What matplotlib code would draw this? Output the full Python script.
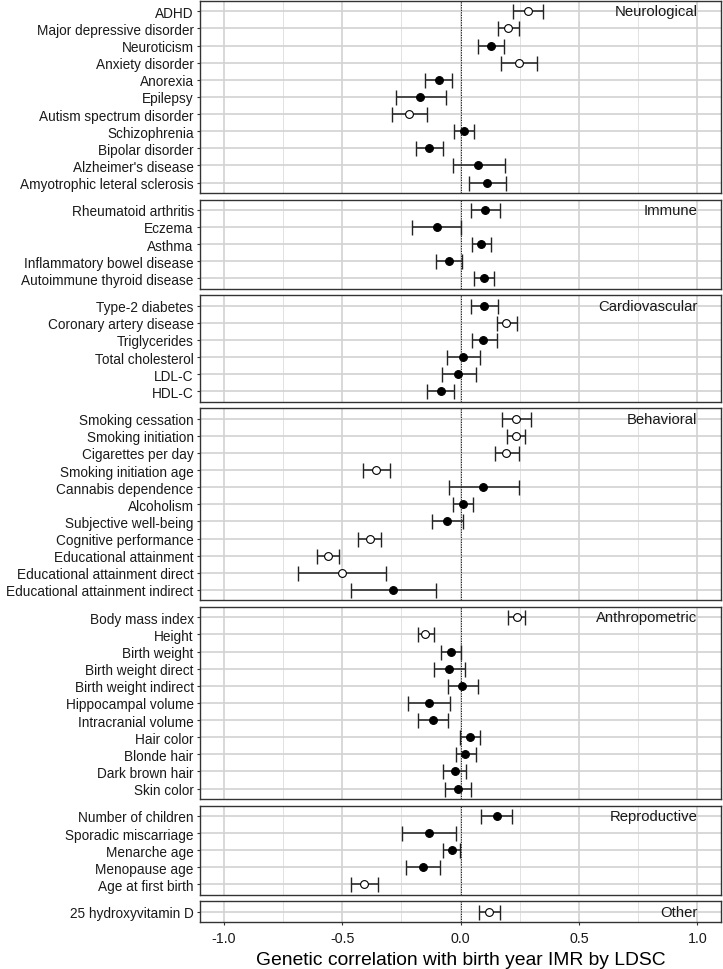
import matplotlib
matplotlib.use('Agg')
import matplotlib.pyplot as plt
import numpy as np

plt.rcParams['font.family'] = ['Liberation Sans', 'DejaVu Sans']

# ---------------- data ----------------
groups = ['Neurological', 'Immune', 'Cardiovascular', 'Behavioral',
          'Anthropometric', 'Reproductive', 'Other']

neuro_traits = ['ADHD', 'Major depressive disorder', 'Neuroticism', 'Anxiety disorder',
                'Anorexia', 'Epilepsy', 'Autism spectrum disorder', 'Schizophrenia',
                'Bipolar disorder', "Alzheimer's disease", 'Amyotrophic leteral sclerosis']
neuro_rg = [0.285, 0.202, 0.130, 0.247, -0.091, -0.169, -0.216, 0.014, -0.134, 0.076, 0.113]
neuro_lo = [0.223, 0.159, 0.074, 0.169, -0.150, -0.274, -0.289, -0.029, -0.190, -0.033, 0.035]
neuro_hi = [0.350, 0.249, 0.184, 0.324, -0.035, -0.062, -0.140, 0.056, -0.076, 0.186, 0.194]
neuro_open = [True, True, False, True, False, False, True, False, False, False, False]

immune_traits = ['Rheumatoid arthritis', 'Eczema', 'Asthma',
                 'Inflammatory bowel disease', 'Autoimmune thyroid disease']
immune_rg = [0.103, -0.101, 0.087, -0.049, 0.099]
immune_lo = [0.043, -0.206, 0.047, -0.103, 0.058]
immune_hi = [0.165, 0.004, 0.130, 0.006, 0.142]
immune_open = [False, False, False, False, False]

cardio_traits = ['Type-2 diabetes', 'Coronary artery disease', 'Triglycerides',
                 'Total cholesterol', 'LDL-C', 'HDL-C']
cardio_rg = [0.099, 0.194, 0.097, 0.012, -0.010, -0.083]
cardio_lo = [0.043, 0.153, 0.047, -0.056, -0.080, -0.140]
cardio_hi = [0.157, 0.239, 0.153, 0.082, 0.064, -0.027]
cardio_open = [False, True, False, False, False, False]

behav_traits = ['Smoking cessation', 'Smoking initiation', 'Cigarettes per day',
                'Smoking initiation age', 'Cannabis dependence', 'Alcoholism',
                'Subjective well-being', 'Cognitive performance', 'Educational attainment',
                'Educational attainment direct', 'Educational attainment indirect']
behav_rg = [0.233, 0.235, 0.194, -0.355, 0.097, 0.012, -0.056, -0.383, -0.559, -0.499, -0.283]
behav_lo = [0.175, 0.196, 0.144, -0.412, -0.049, -0.031, -0.122, -0.431, -0.608, -0.685, -0.462]
behav_hi = [0.297, 0.274, 0.249, -0.297, 0.245, 0.054, 0.010, -0.334, -0.513, -0.313, -0.103]
behav_open = [True, True, True, True, False, False, False, True, True, True, False]

anthro_traits = ['Body mass index', 'Height', 'Birth weight', 'Birth weight direct',
                 'Birth weight indirect', 'Hippocampal volume', 'Intracranial volume',
                 'Hair color', 'Blonde hair', 'Dark brown hair', 'Skin color']
anthro_rg = [0.237, -0.148, -0.041, -0.049, 0.006, -0.134, -0.118, 0.039, 0.021, -0.025, -0.010]
anthro_lo = [0.200, -0.179, -0.083, -0.113, -0.054, -0.221, -0.181, -0.002, -0.019, -0.072, -0.064]
anthro_hi = [0.274, -0.113, 0.000, 0.019, 0.072, -0.045, -0.054, 0.082, 0.064, 0.025, 0.045]
anthro_open = [True, True, False, False, False, False, False, False, False, False, False]

repro_traits = ['Number of children', 'Sporadic miscarriage', 'Menarche age',
                'Menopause age', 'Age at first birth']
repro_rg = [0.153, -0.134, -0.037, -0.157, -0.406]
repro_lo = [0.087, -0.249, -0.072, -0.229, -0.462]
repro_hi = [0.219, -0.019, -0.002, -0.087, -0.348]
repro_open = [False, False, False, False, True]

other_traits = ['25 hydroxyvitamin D']
other_rg = [0.122]
other_lo = [0.080]
other_hi = [0.165]
other_open = [True]

x_ticks = [-1.0, -0.5, 0.0, 0.5, 1.0]
x_tick_labels = ['-1.0', '-0.5', '0.0', '0.5', '1.0']
x_label = 'Genetic correlation with birth year IMR by LDSC'

panels = [
    (neuro_traits, neuro_rg, neuro_lo, neuro_hi, neuro_open),
    (immune_traits, immune_rg, immune_lo, immune_hi, immune_open),
    (cardio_traits, cardio_rg, cardio_lo, cardio_hi, cardio_open),
    (behav_traits, behav_rg, behav_lo, behav_hi, behav_open),
    (anthro_traits, anthro_rg, anthro_lo, anthro_hi, anthro_open),
    (repro_traits, repro_rg, repro_lo, repro_hi, repro_open),
    (other_traits, other_rg, other_lo, other_hi, other_open),
]

# ---------------- figure ----------------
W, H = 723, 970
fig = plt.figure(figsize=(W / 100, H / 100), dpi=100)
ratios = [len(p[0]) + 0.2 for p in panels]
gs = fig.add_gridspec(len(panels), 1, height_ratios=ratios,
                      left=200 / W, right=721 / W, top=1 - 2 / H, bottom=1 - 923 / H,
                      hspace=0.054)

grid_col = '#d2d2d2'
minor_col = '#e2e2e2'
border_col = '#333333'
text_col = '#1a1a1a'

for i, (name, (traits, rg, lo, hi, opn)) in enumerate(zip(groups, panels)):
    ax = fig.add_subplot(gs[i])
    n = len(traits)
    y = np.arange(n)
    rg_a = np.array(rg)
    lo_a = np.array(lo)
    hi_a = np.array(hi)
    opn_a = np.array(opn)

    ax.set_xlim(-1.1, 1.1)
    ax.set_ylim(n - 0.4, -0.6)
    ax.set_xticks(x_ticks)
    ax.set_xticks([-0.75, -0.25, 0.25, 0.75], minor=True)
    ax.set_yticks(y)
    ax.set_yticklabels(traits, fontsize=9.8, color=text_col)
    ax.set_axisbelow(True)
    ax.grid(which='major', color=grid_col, lw=1.2)
    ax.grid(which='minor', axis='x', color=minor_col, lw=0.7)
    ax.tick_params(axis='y', length=2.5, width=0.8, color=border_col, pad=2)
    ax.tick_params(axis='x', which='minor', length=0)
    for s in ax.spines.values():
        s.set_color(border_col)
        s.set_linewidth(1.0)

    ax.axvline(0, color='black', lw=0.6, ls=(0, (1.5, 1.5)), zorder=1.5)

    ax.errorbar(rg_a, y, xerr=[rg_a - lo_a, hi_a - rg_a], fmt='none',
                ecolor='#222222', elinewidth=1.1, capsize=5.4, capthick=1.0, zorder=2)
    ax.plot(rg_a[~opn_a], y[~opn_a], 'o', ms=5.6, mfc='black', mec='black', mew=0.8, zorder=3)
    ax.plot(rg_a[opn_a], y[opn_a], 'o', ms=5.6, mfc='white', mec='black', mew=0.8, zorder=3)

    ax.text(1.0, 0, name, ha='right', va='center', fontsize=10.7, color=text_col, zorder=4)

    if i == len(panels) - 1:
        ax.set_xticklabels(x_tick_labels, fontsize=10.3, color=text_col)
        ax.tick_params(axis='x', which='major', length=2.5, width=0.8, color=border_col, pad=4)
        ax.set_xlabel(x_label, fontsize=13.85, color='black', labelpad=4)
    else:
        ax.tick_params(axis='x', which='major', length=0, labelbottom=False)

fig.savefig('out.png', dpi=100)
